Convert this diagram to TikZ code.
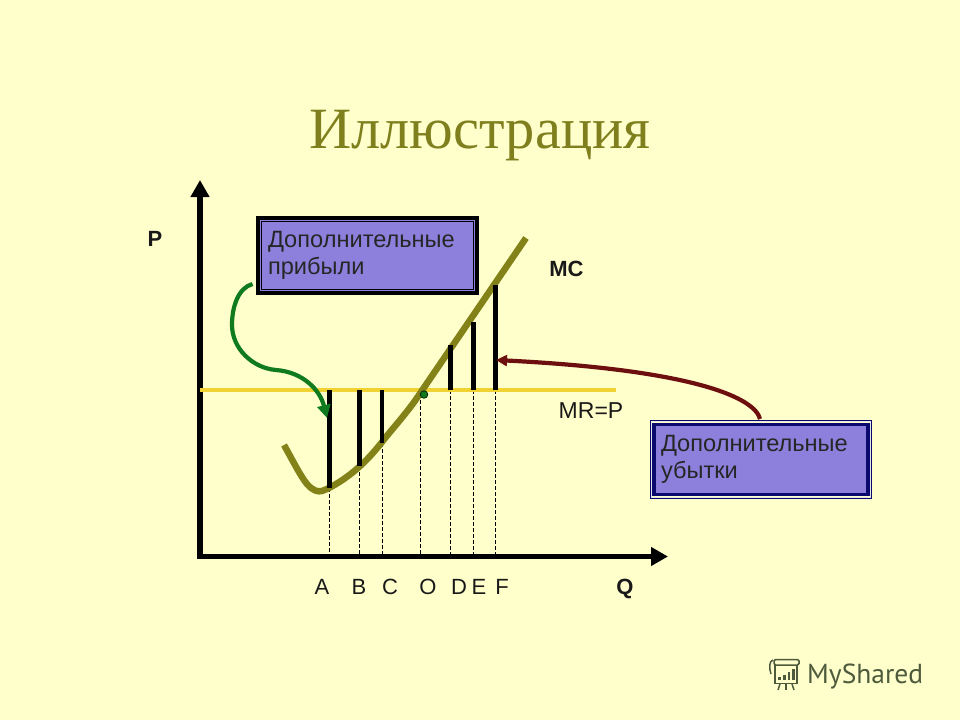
\documentclass[tikz,border=0pt]{standalone}
\usepackage{fontspec}
\setmainfont{Liberation Sans}
\newfontfamily\titlefont{Liberation Serif}
\newfontfamily\markfont{PT Sans}
\usetikzlibrary{arrows.meta}
\definecolor{bgc}{HTML}{FFFFCC}
\definecolor{olivec}{HTML}{828218}
\definecolor{titlec}{HTML}{7F7F1E}
\definecolor{mrc}{HTML}{F0D232}
\definecolor{lilac}{HTML}{8C80DC}
\definecolor{navyc}{HTML}{0A0A6E}
\definecolor{greenc}{HTML}{0F7A1E}
\definecolor{redc}{HTML}{6E0F0F}
\definecolor{markc}{HTML}{4E5A3C}
\tikzset{
  lbl/.style={font=\fontsize{22}{26}\selectfont,anchor=base,inner sep=0pt,text=black!90},
  bl/.style={font=\fontsize{22}{26}\bfseries\selectfont,anchor=base,inner sep=0pt,text=black!90},
  axis/.style={line width=5.5pt,-{Triangle[length=17pt,width=18pt]}},
  bar/.style={line width=4.4pt,black},
  guide/.style={line width=0.8pt,black,dash pattern=on 3.5pt off 2.5pt},
  boxtext/.style={font=\fontsize{23.6}{27.5}\selectfont,align=left,text=black!85,anchor=center,fill=lilac},
  boxa/.style={boxtext,draw=black,line width=4pt,minimum width=219pt,minimum height=75pt,text width=199pt,inner xsep=10pt},
  boxb/.style={boxtext,draw=navyc,line width=3.5pt,minimum width=214pt,minimum height=70pt,text width=200pt,inner xsep=7pt}
}
\begin{document}
\begin{tikzpicture}[x=1pt,y=-1pt]
\useasboundingbox (0,0) rectangle (960,720);
\fill[bgc] (0,0) rectangle (960,720);

\node[font=\titlefont\fontsize{58.5}{70}\selectfont,text=titlec,anchor=base,inner sep=0pt] (title) at (480,148) {Иллюстрация};

% guide feet and tops
\foreach \n/\x/\t in {A/329.5/488,B/359.5/466,C/382/443,D/450.5/345,E/473.5/322,F/495.5/285}{
  \coordinate (top\n) at (\x,\t);
  \coordinate (base\n) at (\x,390);
  \coordinate (foot\n) at (\x,556);
}
\coordinate (baseO) at (420.5,394);
\coordinate (footO) at (420.5,556);

% dashed guides
\draw[guide] (topA) -- (footA);
\draw[guide] (topB) -- (footB);
\draw[guide] (topC) -- (footC);
\draw[guide] (baseO) -- (footO);
\draw[guide] (baseD) -- (footD);
\draw[guide] (baseE) -- (footE);
\draw[guide] (baseF) -- (footF);

% axes
\coordinate (org) at (200,556.5);
\coordinate (yend) at (200,180);
\coordinate (xend) at (668,556.5);
\draw[axis] ([yshift=-2.7pt]org) -- (yend);
\draw[axis] ([xshift=-2.7pt]org) -- (xend);

% MR line
\coordinate (mrl) at (200,390);
\coordinate (mrr) at (616,390);
\draw[mrc,line width=4.4pt] (mrl) -- (mrr);

% MC curve
\draw[olivec,line width=6.5pt,line join=round]
  (284,445) .. controls (293,461) and (301,477) .. (307,484)
  .. controls (313,491) and (318,492) .. (322,491)
  .. controls (333,487) and (348,477) .. (359,467)
  .. controls (367,460) and (375,451) .. (382,442)
  .. controls (392,429) and (408,412) .. (421,392)
  -- (526,238);

% bars
\foreach \n in {A,B,C,D,E,F}{ \draw[bar] (base\n) -- (top\n); }

% point O
\node[circle,fill=greenc,draw=black!70!greenc,line width=0.8pt,minimum size=7.5pt,inner sep=0pt] (ptO) at (424,394.5) {};

% boxes
\node[boxa] (profit) at (367.5,255.5) {Дополнительные\\прибыли};
\draw[black,line width=1pt] ([xshift=5.5pt,yshift=-5.5pt]profit.north west) rectangle ([xshift=-5.5pt,yshift=5.5pt]profit.south east);

\node[boxb] (loss) at (761,459.5) {Дополнительные\\убытки};
\draw[black!10!white,line width=1.4pt] ([xshift=-1pt,yshift=1pt]loss.north west) rectangle ([xshift=1pt,yshift=-1pt]loss.south east);
\draw[navyc,line width=1pt] ([xshift=-2.2pt,yshift=2.2pt]loss.north west) rectangle ([xshift=2.2pt,yshift=-2.2pt]loss.south east);

% arrows
\coordinate (gs) at (252.5,284);
\coordinate (ge) at (327,418);
\draw[greenc,line width=4.2pt,-{Triangle[length=13pt,width=13pt]}]
  (gs) .. controls (238,288) and (232,307) .. (232,325)
  .. controls (232,348) and (252,368) .. (276,370)
  .. controls (303,372) and (320,390) .. (ge);
\coordinate (rs) at (760,419);
\coordinate (re) at (496,360);
\draw[redc,line width=4.2pt,-{Triangle[length=11pt,width=11pt]}]
  (rs) .. controls (755,398) and (695,370) .. (re);

% labels
\node[bl] (lP) at (155,246) {P};
\node[bl] (lMC) at (566.5,276) {MC};
\node[lbl,font=\fontsize{23}{26}\selectfont] (lMR) at (591,418) {MR=P};
\node[bl] (lQ) at (625,594) {Q};
\node[lbl] (lA) at (322,594) {A};
\node[lbl] (lB) at (359,594) {B};
\node[lbl] (lC) at (390,594) {C};
\node[lbl] (lO) at (428,594) {O};
\node[lbl] (lD) at (459,594) {D};
\node[lbl] (lE) at (479,594) {E};
\node[lbl] (lF) at (502,594) {F};

% watermark
\node[font=\markfont\fontsize{27.5}{32}\selectfont,text=markc,anchor=base west,inner sep=0pt] (wm) at (807,683) {MyShared};
\begin{scope}[markc,line width=1.5pt]
  \draw[rounded corners=1.5pt] (774,659.5) -- (799,659.5) -- (799,665) -- (774,665) -- cycle;
  \draw (773,660) .. controls (769,661) and (769,668) .. (771,674);
  \draw (775,665) -- (775,683.5) -- (797,683.5) -- (797,665);
  \draw (780,684) -- (778,690);
  \draw (786,684) -- (786,690);
  \draw (792,684) -- (794,690);
  \fill (778,677) rectangle (781,680);
  \fill (783,675) rectangle (786,680);
  \fill (788,672) rectangle (790,680);
  \fill (792,669) rectangle (794.5,680);
\end{scope}
\end{tikzpicture}
\end{document}
